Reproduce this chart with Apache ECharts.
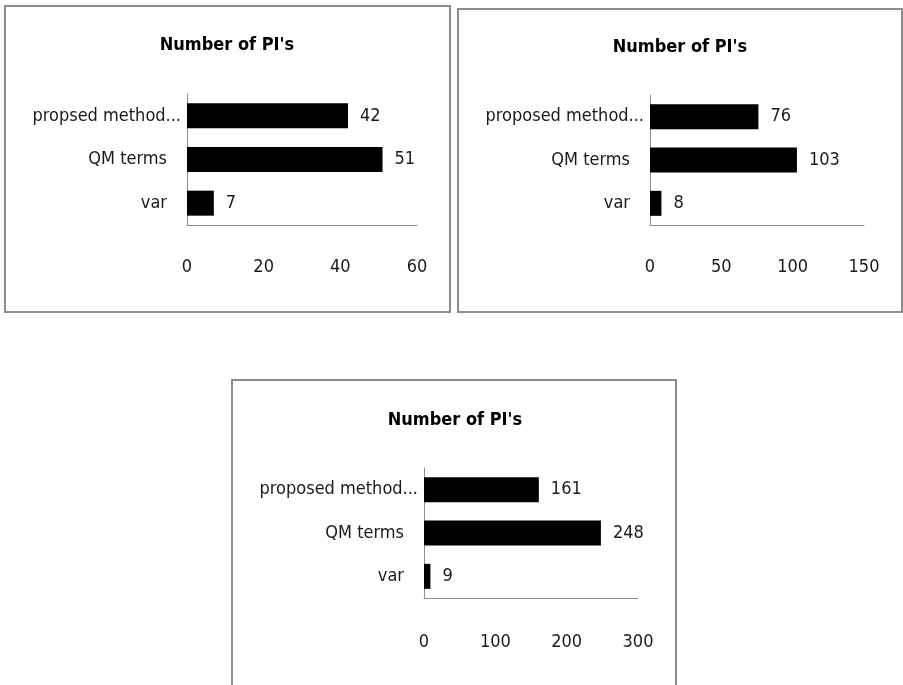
<!DOCTYPE html>
<html>
<head>
<meta charset="utf-8">
<script src="https://cdn.jsdelivr.net/npm/echarts@6/dist/echarts.min.js"></script>
<style>
  html, body { margin: 0; padding: 0; background: #fff; }
  #chart { width: 903px; height: 685px; }
</style>
</head>
<body>
<div id="chart"></div>
<script>
// Category labels (top to bottom)
const categoriesA = ['propsed method...', 'QM terms', 'var'];
const categoriesB = ['proposed method...', 'QM terms', 'var'];

// Number of prime implicants per approach, three test cases
const valuesA = [42, 51, 7];
const valuesB = [76, 103, 8];
const valuesC = [161, 248, 9];

// Value-axis ticks for each panel
const ticksA = [0, 20, 40, 60];
const ticksB = [0, 50, 100, 150];
const ticksC = [0, 100, 200, 300];

const chartTitle = "Number of PI's";

const FONT = "'DejaVu Sans Condensed', 'Liberation Sans', sans-serif";
const FS = 18;
const TEXT = '#1a1a1a';
const AXIS = '#8c8c8c';

const panels = [
  { cats: categoriesA, vals: valuesA, ticks: ticksA,
    box: [5, 6, 445, 306], grid: { left: 187, top: 94, width: 230, height: 131 },
    titleX: 227, titleY: 36, tickMargin: 33 },
  { cats: categoriesB, vals: valuesB, ticks: ticksB,
    box: [458, 9, 444, 303], grid: { left: 650, top: 95, width: 214, height: 130 },
    titleX: 680, titleY: 38, tickMargin: 33 },
  { cats: categoriesB, vals: valuesC, ticks: ticksC,
    box: [232, 380, 444, 330], grid: { left: 424, top: 468, width: 214, height: 130 },
    titleX: 455, titleY: 411, tickMargin: 35 }
];

const chart = echarts.init(document.getElementById('chart'), null, { renderer: 'canvas' });

const option = {
  backgroundColor: '#fff',
  animation: false,
  textStyle: { fontFamily: FONT },
  title: panels.map(p => ({
    text: chartTitle,
    left: p.titleX,
    top: p.titleY,
    textAlign: 'center',
    padding: 0,
    textStyle: { fontFamily: FONT, fontSize: FS, fontWeight: 'bold', color: '#000' }
  })),
  graphic: panels.map(p => ({
    type: 'rect',
    silent: true,
    shape: { x: p.box[0], y: p.box[1], width: p.box[2], height: p.box[3] },
    style: { fill: 'none', stroke: AXIS, lineWidth: 2 }
  })),
  grid: panels.map(p => Object.assign({ containLabel: false }, p.grid)),
  xAxis: panels.map((p, i) => ({
    type: 'value',
    gridIndex: i,
    min: p.ticks[0],
    max: p.ticks[p.ticks.length - 1],
    interval: p.ticks[1] - p.ticks[0],
    splitLine: { show: false },
    axisTick: { show: false },
    axisLine: { show: true, lineStyle: { color: AXIS, width: 1 } },
    axisLabel: { margin: p.tickMargin, fontFamily: FONT, fontSize: FS, color: TEXT }
  })),
  yAxis: panels.map((p, i) => ({
    type: 'category',
    gridIndex: i,
    inverse: true,
    data: p.cats,
    axisTick: { show: false },
    axisLine: { show: true, lineStyle: { color: AXIS, width: 1 } },
    axisLabel: {
      margin: 6,
      fontFamily: FONT,
      fontSize: FS,
      color: TEXT,
      formatter: v => v.endsWith('...') ? '{long|' + v + '}' : '{short|' + v + '}',
      rich: {
        long: { fontFamily: FONT, fontSize: FS, color: TEXT },
        short: { fontFamily: FONT, fontSize: FS, color: TEXT, padding: [0, 14, 0, 0] }
      }
    }
  })),
  series: panels.map((p, i) => ({
    type: 'bar',
    xAxisIndex: i,
    yAxisIndex: i,
    data: p.vals,
    barWidth: 25,
    itemStyle: { color: '#000' },
    label: {
      show: true,
      position: 'right',
      distance: 12,
      fontFamily: FONT,
      fontSize: FS,
      color: TEXT
    }
  }))
};

chart.setOption(option);
</script>
</body>
</html>
